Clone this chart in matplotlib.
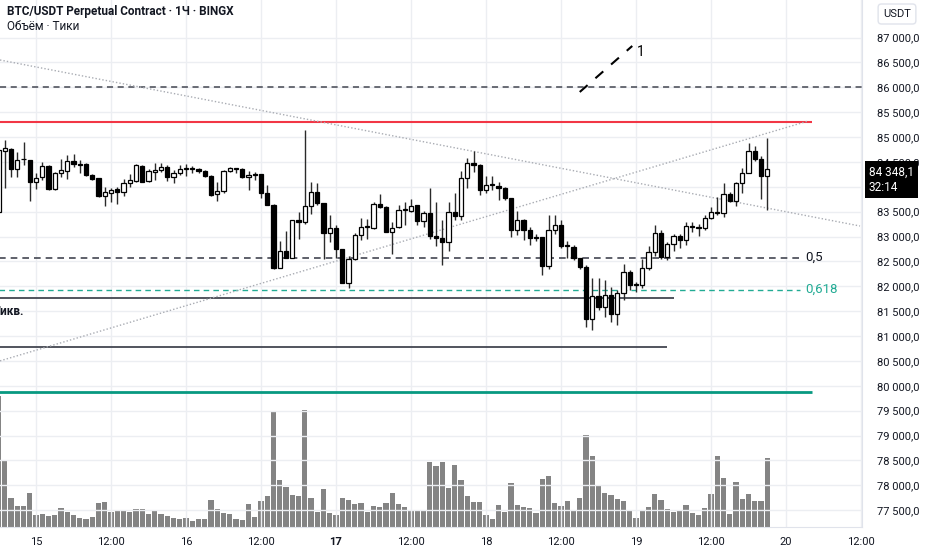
import numpy as np
import pandas as pd
import matplotlib
matplotlib.use('Agg')
import matplotlib.pyplot as plt
from matplotlib.patches import Rectangle
from matplotlib.transforms import blended_transform_factory

plt.rcParams['font.family'] = ['Roboto', 'DejaVu Sans']

# часовые свечи BTC/USDT, начиная с 14.03 18:00
opens = [83490, 84720, 84760, 84350, 84550, 84530, 84100, 84190, 84420, 83950, 84270, 84320,
         84520, 84460, 84450, 84240, 84170, 83820, 83880, 83950, 83890, 84070, 84120, 84420,
         84110, 84300, 84340, 84390, 84200, 84270, 84360, 84360, 84350, 84320, 84220, 83850,
         83920, 84320, 84360, 84360, 84200, 84250, 84250, 83870, 83640, 82370, 82710, 82570,
         83330, 83290, 83610, 83890, 83670, 83080, 83180, 82740, 82070, 82550, 83030, 83210,
         83180, 83650, 83600, 83100, 83200, 83540, 83520, 83630, 83310, 83480, 83010, 82980,
         82890, 83500, 83420, 84180, 84470, 84440, 83930, 84035, 84020, 83980, 83770, 83130,
         83340, 83130, 82985, 83000, 82410, 83130, 83240, 82810, 82780, 82560, 82380, 81340,
         81810, 81580, 81820, 81440, 81860, 82290, 82040, 82030, 82360, 82680, 83080, 82580,
         82840, 83010, 82930, 83200, 83170, 83170, 83380, 83500, 83470, 83850, 83720, 84070,
         84280, 84710, 84550, 84220]
highs = [84760, 84940, 84770, 84700, 84900, 84540, 84270, 84490, 84430, 84300, 84550, 84640,
         84650, 84540, 84470, 84250, 84180, 84000, 83970, 84000, 84160, 84250, 84450, 84430,
         84350, 84470, 84470, 84440, 84340, 84440, 84450, 84420, 84370, 84340, 84230, 84100,
         84340, 84390, 84365, 84370, 84320, 84300, 84260, 84030, 83650, 82910, 83110, 83340,
         83490, 85140, 84090, 84070, 83680, 83430, 83230, 82750, 82600, 83080, 83370, 83350,
         83700, 83850, 83620, 83290, 83630, 83690, 83750, 83640, 83510, 83970, 83700, 83330,
         83690, 83870, 84320, 84570, 84720, 84450, 84220, 84220, 84100, 83990, 83780, 83510,
         83350, 83200, 83050, 83000, 83430, 83430, 83330, 82900, 82830, 82570, 82430, 82160,
         82160, 82130, 81990, 81920, 82440, 82330, 82090, 82540, 82800, 83230, 83140, 82880,
         83060, 83050, 83300, 83300, 83250, 83430, 83600, 83790, 84070, 83900, 84100, 84370,
         84870, 84810, 84620, 84990]
lows = [83470, 83970, 84190, 84200, 84440, 83710, 83950, 84140, 83930, 83930, 84200, 84150,
        84400, 84280, 84220, 84140, 83800, 83610, 83700, 83650, 83820, 84000, 84100, 84090,
        84100, 84140, 84300, 84120, 84080, 84240, 84220, 84270, 84280, 84200, 83810, 83720,
        83870, 84300, 84270, 84180, 83930, 84140, 83770, 83630, 82350, 82360, 82560, 82560,
        82960, 83260, 83460, 83630, 82550, 82880, 82560, 82060, 81970, 82530, 82930, 82960,
        83160, 83570, 83090, 82640, 83180, 83230, 83500, 83230, 83200, 82960, 82800, 82430,
        82700, 83330, 83330, 83970, 84300, 83830, 83870, 83930, 83730, 83730, 83000, 83030,
        82930, 82830, 82900, 82230, 82340, 83050, 82760, 82560, 82530, 82350, 81190, 81130,
        81520, 81390, 81290, 81220, 81720, 81920, 81890, 81960, 82330, 82600, 82540, 82520,
        82700, 82760, 82830, 83100, 83010, 83130, 83350, 83430, 83390, 83700, 83610, 83870,
        84270, 84520, 83750, 83530]
closes = [84740, 84770, 84350, 84540, 84560, 84100, 84180, 84420, 83950, 84280, 84340, 84520,
          84450, 84440, 84240, 84160, 83810, 83890, 83940, 83890, 84070, 84140, 84440, 84100,
          84320, 84340, 84390, 84200, 84280, 84350, 84370, 84350, 84320, 84220, 83830, 83920,
          84320, 84370, 84350, 84190, 84240, 84245, 83870, 83640, 82360, 82710, 82570, 83340,
          83290, 83610, 83890, 83680, 83080, 83180, 82750, 82070, 82550, 83030, 83200, 83200,
          83650, 83600, 83100, 83180, 83530, 83550, 83620, 83310, 83480, 83020, 82980, 82880,
          83500, 83420, 84170, 84470, 84440, 83930, 84030, 84030, 83970, 83770, 83130, 83330,
          83130, 82980, 82980, 82410, 83130, 83240, 82800, 82805, 82560, 82380, 81340, 81810,
          81590, 81820, 81440, 81860, 82290, 82030, 82035, 82360, 82680, 83080, 82580, 82840,
          83010, 82930, 83210, 83195, 83165, 83380, 83500, 83470, 83850, 83720, 84070, 84280,
          84710, 84550, 84220, 84348.1]
volumes = [394, 199, 87, 64, 63, 102, 35, 40, 32, 35, 57, 45,
           35, 28, 23, 29, 73, 75, 46, 50, 51, 46, 55, 55,
           40, 47, 38, 34, 27, 23, 27, 17, 23, 24, 82, 55,
           43, 40, 23, 22, 69, 29, 79, 92, 348, 141, 120, 97,
           92, 350, 86, 46, 114, 43, 37, 86, 80, 69, 72, 44,
           62, 61, 72, 102, 68, 61, 50, 47, 52, 194, 182, 195,
           118, 186, 142, 93, 76, 76, 37, 23, 67, 45, 131, 65,
           59, 57, 43, 144, 154, 71, 62, 79, 52, 87, 277, 214,
           127, 102, 96, 85, 79, 47, 26, 52, 60, 99, 81, 53,
           46, 49, 65, 43, 37, 57, 100, 213, 148, 39, 135, 85,
           98, 77, 78, 208]

time_labels = ['15', '12:00', '16', '12:00', '17', '12:00', '18', '12:00', '19', '12:00', '20', '12:00']
price_ticks = np.arange(77500, 87001, 500)
hidden_tick = 84000  # закрыт плашкой текущей цены

# горизонтальные уровни
lvl_86000 = 86000
fib_top = 85300
fib_05 = 82575
fib_0618 = 81930
fib_bottom = 79880
liq_1 = 81770
liq_2 = 80780
# наклонные линии (час, цена)
down_line = ([-5.76, 131.84], [86548, 83211])
up_line = ([-5.76, 123.5], [80500, 85320])
arrow_line = ([87.0, 95.4], [85905, 86830])

times = pd.date_range('2025-03-14 18:00', periods=len(opens), freq='h')
x = ((times - pd.Timestamp('2025-03-15 00:00')) / pd.Timedelta(hours=1)).to_numpy()

fig = plt.figure(figsize=(9.32, 5.5), dpi=100)
ax = fig.add_axes([0, 23 / 550, 862 / 932, 527 / 550])
vax = ax.twinx()

# объём
vax.bar(x, volumes, width=0.82, color='#7d7d7d', linewidth=0, alpha=0.95)
vax.set_ylim(0, 394 * 527 / 131.3)
vax.set_yticks([])
for s in vax.spines.values():
    s.set_visible(False)

ax.set_zorder(vax.get_zorder() + 1)
ax.patch.set_visible(False)

# свечи
w = 0.66
for xi, o, h, l, c in zip(x, opens, highs, lows, closes):
    ax.vlines(xi, l, h, color='#2a2a2a', lw=1.0, zorder=3)
    up = c >= o
    bottom = min(o, c)
    height = max(abs(c - o), 18)
    ax.add_patch(Rectangle((xi - w / 2, bottom), w, height,
                           facecolor='white' if up else 'black',
                           edgecolor='black', lw=0.9, zorder=4))

ax.set_xlim(-5.76, 132.16)
ax.set_ylim(77161, 87754)

# уровни
ax.axhline(lvl_86000, color='#434651', lw=1.1, ls=(0, (4, 3)), zorder=2)
ax.hlines(fib_top, -10, 124.2, color='#f23645', lw=1.5, zorder=2)
ax.hlines(fib_bottom, -10, 124.2, color='#089981', lw=2, zorder=2)
ax.hlines(fib_05, -10, 122.2, color='#434651', lw=1.2, ls=(0, (4, 3)), zorder=2)
ax.hlines(fib_0618, -10, 122.2, color='#22ab94', lw=1.0, ls=(0, (4, 3)), zorder=2)
ax.hlines(liq_1, -10, 102.1, color='#434651', lw=1.3, zorder=2)
ax.hlines(liq_2, -10, 101.0, color='#434651', lw=1.3, zorder=2)
ax.plot(*down_line, color='#a9acb3', lw=1.0, ls=(0, (1, 1.5)), zorder=2)
ax.plot(*up_line, color='#a9acb3', lw=1.0, ls=(0, (1, 1.5)), zorder=2)
ax.plot(*arrow_line, color='black', lw=1.5, ls=(0, (5, 5)), zorder=5)
ax.text(96.8, 86700, '1', fontsize=10, va='center', ha='center', color='black')

ax.text(123.0, fib_05, '0,5', fontsize=9.5, va='center', color='#131722')
ax.text(123.0, fib_0618, '0,618', fontsize=9.5, va='center', color='#22ab94')
ax.text(-6.9, 81500, 'Ликв.', fontsize=8.5, fontweight='bold', va='center',
        color='#131722', clip_on=True)

# оси и сетка
ax.set_xticks(np.arange(0, 133, 12))
ax.set_xticklabels(time_labels)
ax.get_xticklabels()[4].set_fontweight('bold')
ax.set_yticks(price_ticks)
ax.set_yticklabels(['' if v == hidden_tick else f'{v:,.1f}'.replace(',', ' ').replace('.', ',')
                    for v in price_ticks])
ax.yaxis.tick_right()
ax.tick_params(axis='both', length=0, labelsize=8, labelcolor='#131722')
ax.tick_params(axis='y', pad=11)
ax.tick_params(axis='x', pad=7)
ax.grid(True, color='#eceef2', lw=1)
ax.set_axisbelow(True)
for side in ['top', 'left']:
    ax.spines[side].set_visible(False)
ax.spines['right'].set_color('#e0e3eb')
ax.spines['bottom'].set_color('#e0e3eb')

# подписи
fig.text(7 / 932, 1 - 12 / 550, 'BTC/USDT Perpetual Contract · 1Ч · BINGX', fontsize=8.5,
         fontweight='semibold', va='center', color='#131722')
fig.text(7 / 932, 1 - 27 / 550, 'Объём · Тики', fontsize=8.5, va='center', color='#131722')
fig.text(897 / 932, 1 - 14 / 550, 'USDT', fontsize=8, ha='center', va='center', color='#131722',
         bbox=dict(boxstyle='round,pad=0.45,rounding_size=0.3', fc='white', ec='#e0e3eb'))

tr = blended_transform_factory(ax.transAxes, ax.transData)
ax.annotate('84 348,1\n32:14', xy=(1, closes[-1]), xycoords=tr, xytext=(5, 3),
            textcoords='offset points', ha='left', va='top', fontsize=8.5, color='white',
            linespacing=1.3, annotation_clip=False, zorder=10,
            bbox=dict(boxstyle='square,pad=0.35', fc='black', ec='none'))

fig.savefig('out.png', dpi=100, facecolor='white')
